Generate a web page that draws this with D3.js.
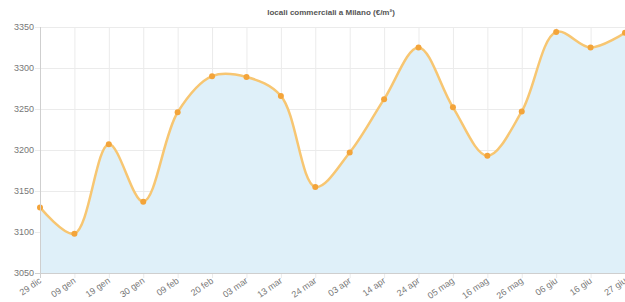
<!DOCTYPE html>
<html>
<head>
<meta charset="utf-8">
<script src="https://cdnjs.cloudflare.com/ajax/libs/d3/7.8.5/d3.min.js"></script>
<style>
  body { margin: 0; background: #fff; }
  svg { display: block; font-family: "Liberation Sans", Arial, sans-serif; }
</style>
</head>
<body>
<script>
// size of the svg
var w = 625;
var h = 302;

// data
var categories = ["29 dic", "09 gen", "19 gen", "30 gen", "09 feb", "20 feb", "03 mar", "13 mar", "24 mar",
  "03 apr", "14 apr", "24 apr", "05 mag", "16 mag", "26 mag", "06 giu", "16 giu", "27 giu"];
var values = [3130, 3098, 3207, 3137, 3246, 3290, 3289, 3266, 3155,
  3197, 3262, 3325, 3252, 3193, 3247, 3344, 3325, 3343];
var yTicks = [3050, 3100, 3150, 3200, 3250, 3300, 3350];
var title = "locali commerciali a Milano (€/m²)";

var margin = { top: 27, right: 0, bottom: 29, left: 40 };

var svg = d3.select("body")
  .append("svg")
  .attr("width", w)
  .attr("height", h);

var xScale = d3.scalePoint()
  .domain(categories)
  .range([margin.left, w - margin.right]);

var yScale = d3.scaleLinear()
  .domain([3050, 3350])
  .range([h - margin.bottom, margin.top]);

// title
svg.append("text")
  .attr("x", 331)
  .attr("y", 15)
  .attr("text-anchor", "middle")
  .attr("font-size", "8px")
  .attr("font-weight", "bold")
  .attr("fill", "#555")
  .text(title);

// grid lines
svg.append("g")
  .selectAll("line.hgrid")
  .data(yTicks)
  .enter()
  .append("line")
  .attr("x1", margin.left - 5)
  .attr("x2", w)
  .attr("y1", function(d) { return yScale(d) + 0.5; })
  .attr("y2", function(d) { return yScale(d) + 0.5; })
  .attr("stroke", "#ebebeb");

svg.append("g")
  .selectAll("line.vgrid")
  .data(categories)
  .enter()
  .append("line")
  .attr("x1", function(d) { return xScale(d) + 0.5; })
  .attr("x2", function(d) { return xScale(d) + 0.5; })
  .attr("y1", margin.top)
  .attr("y2", h - margin.bottom + 5)
  .attr("stroke", "#ebebeb");

// area + line
var curve = d3.curveCatmullRom.alpha(0.5);

var area = d3.area()
  .x(function(d, i) { return xScale(categories[i]); })
  .y0(yScale(3050))
  .y1(function(d) { return yScale(d); })
  .curve(curve);

var line = d3.line()
  .x(function(d, i) { return xScale(categories[i]); })
  .y(function(d) { return yScale(d); })
  .curve(curve);

svg.append("defs").append("clipPath")
  .attr("id", "clip")
  .append("rect")
  .attr("x", margin.left)
  .attr("y", margin.top - 6)
  .attr("width", w - margin.left)
  .attr("height", h - margin.bottom - margin.top + 6);

svg.append("path")
  .datum(values)
  .attr("clip-path", "url(#clip)")
  .attr("d", area)
  .attr("fill", "#dff0f9");

svg.append("path")
  .datum(values)
  .attr("d", line)
  .attr("fill", "none")
  .attr("stroke", "#f7c672")
  .attr("stroke-width", 2.5);

svg.selectAll("circle")
  .data(values)
  .enter()
  .append("circle")
  .attr("cx", function(d, i) { return xScale(categories[i]); })
  .attr("cy", function(d) { return yScale(d); })
  .attr("r", 3)
  .attr("fill", "#f3a43a");

// axes lines
svg.append("line")
  .attr("x1", margin.left + 0.5).attr("x2", margin.left + 0.5)
  .attr("y1", margin.top).attr("y2", h - margin.bottom + 5)
  .attr("stroke", "#cfcfcf");
svg.append("line")
  .attr("x1", margin.left - 5).attr("x2", w)
  .attr("y1", h - margin.bottom + 0.5).attr("y2", h - margin.bottom + 0.5)
  .attr("stroke", "#cfcfcf");

// y tick labels
svg.append("g")
  .selectAll("text")
  .data(yTicks)
  .enter()
  .append("text")
  .attr("x", margin.left - 6)
  .attr("y", function(d) { return yScale(d) + 3; })
  .attr("text-anchor", "end")
  .attr("font-size", "9px")
  .attr("fill", "#777")
  .text(function(d) { return d; });

// x tick labels, rotated
svg.append("g")
  .selectAll("text")
  .data(categories)
  .enter()
  .append("text")
  .attr("transform", function(d) {
    return "translate(" + (xScale(d) + 2) + "," + (h - margin.bottom + 9) + ") rotate(-35)";
  })
  .attr("text-anchor", "end")
  .attr("font-size", "9px")
  .attr("fill", "#777")
  .text(function(d) { return d; });
</script>
</body>
</html>
